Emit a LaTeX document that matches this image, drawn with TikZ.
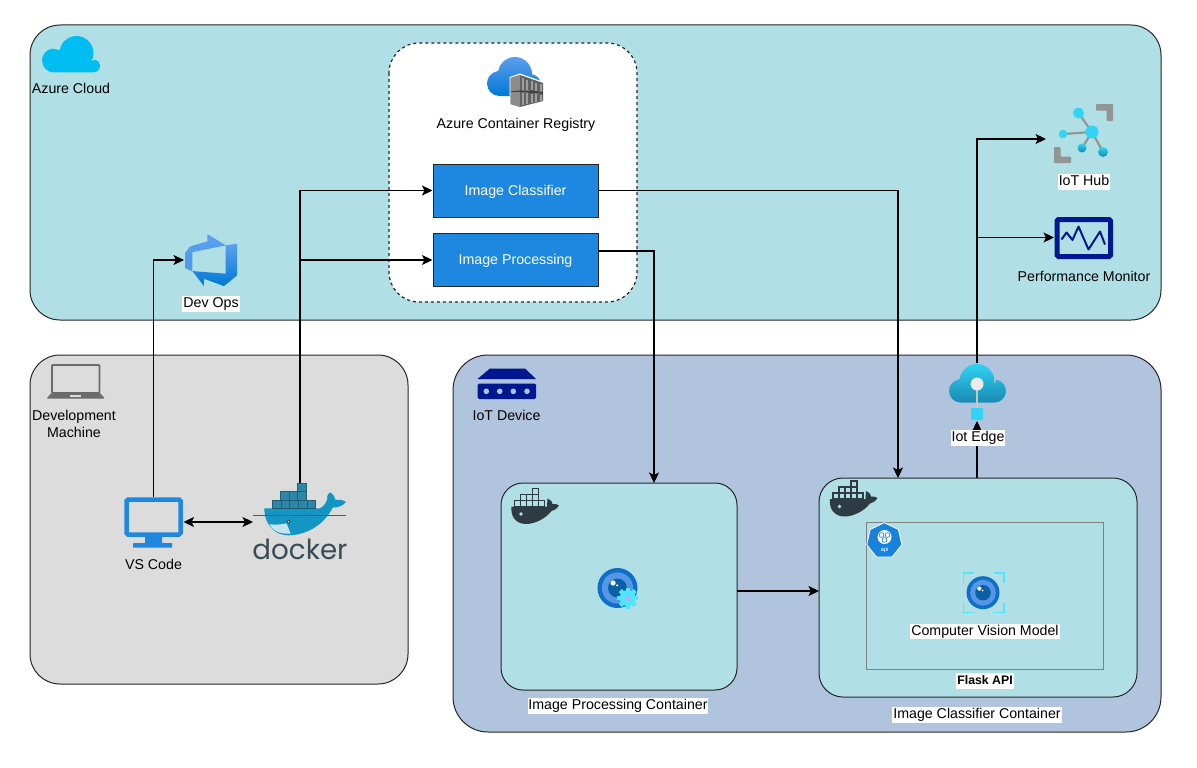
\documentclass[tikz,border=0pt]{standalone}
\usepackage{fontspec}
\setmainfont{Liberation Sans}
\newfontfamily\dockerfont{Poppins}[FontFace={m}{n}{Font=Poppins Medium}]
\usetikzlibrary{arrows.meta,shapes.geometric,calc}
\definecolor{cloudbg}{HTML}{B0E0E6}
\definecolor{devbg}{HTML}{DCDCDC}
\definecolor{iotbg}{HTML}{B0C4DE}
\definecolor{boxblue}{HTML}{1E88E0}
\definecolor{navy}{HTML}{00188F}
\definecolor{azsky}{HTML}{00BEF2}
\definecolor{azhi}{HTML}{5EA0EF}
\definecolor{azlo}{HTML}{0078D4}
\definecolor{cyanlt}{HTML}{32D4F5}
\definecolor{cyandk}{HTML}{198AB3}
\definecolor{gearc}{HTML}{50E6FF}
\definecolor{hubgray}{HTML}{949494}
\definecolor{dkwhale}{HTML}{2F3B42}
\definecolor{dockertxt}{HTML}{394D54}
\definecolor{whale}{HTML}{1396C3}
\definecolor{crate}{HTML}{2D87A8}
\definecolor{lapgray}{HTML}{6B6B6B}
\definecolor{eyeout}{HTML}{0F6FC6}
\definecolor{eyemid}{HTML}{5596E6}
\definecolor{eyein}{HTML}{0B5FA5}
\newcommand{\cloudoutline}[9]{
  ({#1},{#2+#3}) arc[start angle=270,end angle=100,radius=#3pt]
  -- ({#4+#6*cos(170)},{#5-#6*sin(170)}) arc[start angle=170,end angle=-30,radius=#6pt]
  -- ({#7+#9*cos(80)},{#8-#9*sin(80)}) arc[start angle=80,end angle=-90,radius=#9pt] -- cycle}
\newcommand{\smallwhale}[2]{%
  \begin{scope}[shift={(#1,#2)}]
    \fill[dkwhale] (0,18) -- (35.5,18) -- (36,10) .. controls (40,12) and (41,14) .. (41,15.5)
      .. controls (44,15) and (46,16) .. (47.5,17) .. controls (45,21) and (42,22) .. (40,22.5)
      .. controls (34,30) and (24,35.5) .. (14,35.5) .. controls (4,35) and (-1,28) .. (0,18) -- cycle;
    \foreach \a/\b in {3/12,9/12,15/12,21/12,27/12,9/6,15/6,21/6,21/0}
      \draw[dkwhale,line width=1.3pt,fill=cloudbg] (\a,\b) rectangle ++(6,6);
    \fill[cloudbg] (9.5,25.5) circle[radius=1.8pt];
  \end{scope}}
\newcommand{\eyeicon}[3]{%
  \fill[eyeout] (#1,#2) circle[radius=#3*1pt];
  \fill[eyemid] (#1,#2) circle[radius=#3*0.78pt];
  \fill[eyein] (#1,#2) circle[radius=#3*0.47pt];
  \fill[white] ({#1-#3*0.22},{#2-#3*0.25}) circle[radius=#3*0.13pt];
  \fill[white] ({#1-#3*0.02},{#2-#3*0.13}) circle[radius=#3*0.06pt];}
\tikzset{
  panel/.style={draw=black!85,line width=1pt,rounded corners=#1},
  conn/.style={draw=black,line width=1.15pt,-{Stealth[length=10.5pt,width=10pt,inset=2.5pt]}},
  conntwo/.style={draw=black,line width=1.15pt,{Stealth[length=10.5pt,width=10pt,inset=2.5pt]}-{Stealth[length=10.5pt,width=10pt,inset=2.5pt]}},
  imgbox/.style={draw=black!85,line width=1pt,fill=boxblue,text=white,font=\fontsize{14.2}{16}\selectfont,minimum width=165pt,minimum height=53pt,inner sep=0pt,text height=12.5pt,text depth=3pt},
  lab/.style={font=\fontsize{14.2}{17}\selectfont,text=black,inner sep=0.7pt,align=center},
  wlab/.style={lab,fill=white,text height=10.5pt,text depth=3.5pt,inner sep=0.9pt},
  icon/.style 2 args={minimum width=#1,minimum height=#2,inner sep=0pt,outer sep=0pt}
}
\begin{document}
\begin{tikzpicture}[x=1pt,y=-1pt]
\useasboundingbox (0,0) rectangle (1197,768);
\fill[white] (0,0) rectangle (1197,768);
% panels
\draw[panel=30pt,fill=cloudbg] (30,25) rectangle (1161,320);
\draw[panel=30pt,fill=devbg] (30,355) rectangle (408,684);
\draw[panel=35pt,fill=iotbg] (453,355) rectangle (1161,732);
\draw[panel=30pt,fill=white,dashed,dash pattern=on 3pt off 3pt,line width=1.2pt] (389,43) rectangle (637,302);
\node[panel=22pt,fill=cloudbg,icon={236pt}{207pt}] (ipc) at (619,586.5) {};
\node[panel=24pt,fill=cloudbg,icon={318pt}{219pt}] (icc) at (978,587.5) {};
\draw[draw=black!50,line width=1pt] (866,522) rectangle (1103,669);
% blue boxes
\node[imgbox] (ic) at (515.5,190.5) {Image Classifier};
\node[imgbox] (ip) at (515.5,260) {Image Processing};
% anchor nodes
\node[icon={53pt}{52pt}] (devops) at (210.5,260) {};
\node[icon={60pt}{50pt}] (vscode) at (153.5,522) {};
\node[icon={94pt}{76pt}] (docker) at (300,522) {};
\node[icon={68pt}{59pt}] (hub) at (1080,133.5) {};
\node[icon={59pt}{43pt}] (perf) at (1083.5,237.5) {};
\node[icon={57pt}{58pt}] (edge) at (977,392) {};
\coordinate (hubin) at (1046,139);
\coordinate (ipout) at (598,251);
\coordinate (iciin) at (654,483);
\coordinate (cctop) at (898,478);
\coordinate (ccout) at (977,478);
\coordinate (ipcout) at (737,591);
\coordinate (iccin) at (819,591);
% connectors
\draw[conn] (vscode.north) |- (devops.west);
\draw[conn] (docker.north) |- (ic.west);
\draw[conn] (docker.north) |- (ip.west);
\draw[conntwo] (vscode.east) -- (docker.west);
\draw[conn] (ic.east) -| (cctop);
\draw[conn] (ipout) -| (iciin);
\draw[conn] (ipcout) -- (iccin);
\draw[conn] (ccout) -- (edge.south);
\draw[conn] (edge.north) |- (hubin);
\draw[conn] (edge.north) |- (perf.west);
% Azure cloud icon
\fill[azsky] \cloudoutline{54}{60.5}{12}{76.5}{53}{17}{93.5}{66}{6.5};
% DevOps icon
\begin{scope}[shift={(181.75,230.75)},x=3.25pt,y=-3.25pt]
\shade[top color=azhi,bottom color=azlo]
  (17,4) -- (17,13.74) -- (13,17.02) -- (6.8,14.76) -- (6.8,17) -- (3.29,12.41) -- (13.52,13.21) -- (13.52,4.44) -- cycle;
\shade[top color=azhi,bottom color=azhi!80!azlo]
  (13.59,4.49) -- (7.85,1) -- (7.85,3.29) -- (2.58,4.84) -- (1,6.87) -- (1,11.48) -- (3.26,12.48) -- (3.26,6.57) -- cycle;
\end{scope}
% ACR icon
\shade[top color=azhi,bottom color=azlo] \cloudoutline{499.5}{83.5}{12.5}{515}{74}{17}{530}{85}{11};
\fill[white] (509.5,77) -- (520,73.5) -- (544,82) -- (544,102) -- (520,108) -- (509.5,105) -- cycle;
\fill[black!62] (510.5,78) -- (520,75) -- (543,83) -- (543,91.5) -- (520,90.2) -- (510.5,91) -- cycle;
\fill[black!62] (510.5,92.5) -- (520,92) -- (543,94) -- (543,101) -- (520,107) -- (510.5,104) -- cycle;
\fill[black!75] (510.5,91) -- (520,90.2) -- (543,91.5) -- (543,94) -- (520,92) -- (510.5,92.5) -- cycle;
\fill[black!45] (510.5,78) -- (520,75) -- (520,90.2) -- (510.5,91) -- cycle;
\fill[black!45] (510.5,92.5) -- (520,92) -- (520,107) -- (510.5,104) -- cycle;
\foreach \q in {522.5,527,531.5,536,540.5}{
  \draw[black!38,line width=2pt] (\q,{77.5+(\q-521)*0.34}) -- (\q,{89.8+(\q-521)*0.05});
  \draw[black!38,line width=2pt] (\q,{93+(\q-521)*0.08}) -- (\q,{105.5-(\q-521)*0.24});}
% IoT hub
\begin{scope}
\fill[hubgray,rounded corners=0.8pt] (1096,104) -- (1113,104) -- (1113,121) -- (1106.5,121) -- (1106.5,110.5) -- (1096,110.5) -- cycle;
\fill[hubgray,rounded corners=0.8pt] (1054,147) -- (1060.5,147) -- (1060.5,156.5) -- (1071,156.5) -- (1071,163) -- (1054,163) -- cycle;
\draw[hubgray,line width=2.2pt] (1092,132) -- (1078.5,113) (1092,132) -- (1063,134) (1092,132) -- (1082,148) (1092,132) -- (1103,152);
\fill[cyanlt] (1092,132) circle[radius=6.5pt];
\fill[cyanlt] (1078.5,113) circle[radius=5.5pt];
\fill[cyanlt] (1063,134) circle[radius=4.3pt];
\shade[top color=cyanlt,bottom color=cyandk] (1082,148) circle[radius=4.5pt];
\shade[top color=cyanlt,bottom color=cyandk] (1103,152) circle[radius=5pt];
\end{scope}
% performance monitor
\draw[navy,line width=5pt,rounded corners=1.5pt] (1057,219.5) rectangle (1110.5,256.5);
\draw[navy,line width=2pt,line join=round] (1061.5,239.5) -- (1066.5,232.5) -- (1072.5,240) -- (1078.5,226.5) -- (1088.5,249.5) -- (1100,231.5) -- (1105,244.5);
% laptop
\draw[lapgray,line width=1.8pt,rounded corners=1pt] (52,365) rectangle (99.5,393);
\fill[lapgray,rounded corners=1pt] (46.5,398.5) -- (51.5,393) -- (100,393) -- (105,398.5) -- cycle;
\fill[devbg] (70,394.5) rectangle (81,396.5);
% VS code monitor
\draw[boxblue,line width=4.5pt,rounded corners=1.5pt] (126.5,499.5) rectangle (180.5,534.5);
\fill[boxblue] (145,537) -- (162,537) -- (162,543) -- (172,543) -- (172,547.5) -- (133,547.5) -- (133,543) -- (145,543) -- cycle;
% docker big logo
\begin{scope}[shift={(30,355)},x=0.3333pt,y=-0.3333pt]
\fill[whale] (703,460) -- (870,460) .. controls (880,455) and (888,445) .. (892,432) .. controls (890,422) and (895,415) .. (900,412)
  .. controls (910,418) and (915,425) .. (917,435) .. controls (930,433) and (942,436) .. (948,441) .. controls (940,452) and (925,458) .. (908,458)
  .. controls (890,495) and (845,540) .. (775,541) .. controls (735,541) and (703,510) .. (703,460) -- cycle;
\fill[white!75!whale] (718,508) .. controls (740,510) and (760,508) .. (770,505) .. controls (775,520) and (780,530) .. (782,536) .. controls (755,538) and (730,530) .. (718,508) -- cycle;
\foreach \a/\b in {727/435,753/435,779/435,805/435,831/435,751/410,777/410,803/410,803/385}
  \draw[crate!70!black,line width=0.7pt,fill=crate] (\a,\b) rectangle ++(26,25);
\draw[dockertxt!70!whale,line width=0.5pt] (670,481) -- (948,481);
\fill[dockertxt] (775,500) circle[radius=2pt];
\fill[white] (775,500) circle[radius=0.8pt];
\end{scope}
\node[font=\dockerfont\fontsize{27.7}{28}\selectfont,text=dockertxt,inner sep=0pt] (dockerword) at (300,549) {docker};
% small whales
\smallwhale{511.5}{488.5}
\smallwhale{830}{481}
% IoT device icon
\fill[navy] (477.5,379) -- (490,368.5) -- (525,368.5) -- (536,379) -- cycle;
\fill[navy,rounded corners=1.5pt] (477.5,383.5) rectangle (536,399);
\foreach \q in {486.3,499.7,513.3,527}
  \fill[iotbg] (\q,391.3) circle[radius=2.8pt];
% IoT Edge cloud
\shade[top color=cyanlt,bottom color=cyandk] \cloudoutline{960.5}{391}{11.5}{977}{381.5}{17.5}{994.5}{391}{11.5};
\draw[gray!45,line width=2.2pt] (977,384) -- (977,410);
\fill[white!92!black] (977,384) circle[radius=6.5pt];
\fill[cyanlt,rounded corners=1pt] (971,408) rectangle (983,420);
% image processing icon
\eyeicon{617.5}{588}{20}
\begin{scope}[shift={(627.7,598)}]
\foreach \r in {0,45,...,315}
  \fill[gearc,rotate=\r] (-2.2,-10.5) rectangle (2.2,0);
\fill[gearc] (0,0) circle[radius=8pt];
\fill[eyemid!60!white] (0,0) circle[radius=3.4pt];
\end{scope}
% computer vision icon
\eyeicon{983}{592.7}{16.5}
\draw[gearc,line width=1.6pt] (963.6,583) -- (963.6,573) -- (974,573) (994,573) -- (1003.7,573) -- (1003.7,583) (1003.7,602.5) -- (1003.7,612.5) -- (994,612.5) (974,612.5) -- (963.6,612.5) -- (963.6,602.5);
% API icon
\node[regular polygon,regular polygon sides=7,draw=white,line width=0.8pt,fill=azlo!75!azhi,minimum size=36pt,inner sep=0pt] (apiicon) at (884.3,540.7) {};
\fill[white] (884.5,537) circle[radius=7pt];
\foreach \a/\b in {-3/-2,3/-2,0/3}
  \draw[azlo,line width=0.6pt] (884.5+\a,537+\b) circle[radius=2.4pt];
\node[font=\fontsize{6}{6}\selectfont,text=white,inner sep=0pt] (apitext) at (884.5,549.5) {api};
% labels
\node[lab] (lcloud) at (71,88.5) {Azure Cloud};
\node[wlab] (ldev) at (211,304) {Dev Ops};
\node[lab] (lacr) at (516,125) {Azure Container Registry};
\node[wlab] (lhub) at (1084,182) {IoT Hub};
\node[lab] (lperf) at (1084,276.5) {Performance Monitor};
\node[lab] (lmach) at (74,424) {Development\\Machine};
\node[lab] (lvs) at (153.5,564.5) {VS Code};
\node[lab] (ldevice) at (506.5,415.5) {IoT Device};
\node[wlab] (ledge) at (978,438) {Iot Edge};
\node[wlab] (lcv) at (985,631.5) {Computer Vision Model};
\node[wlab,font=\fontsize{12.3}{14}\selectfont\bfseries] (lflask) at (985,681) {Flask API};
\node[wlab] (lipc) at (618,706) {Image Processing Container};
\node[wlab] (licc) at (977,715) {Image Classifier Container};
\end{tikzpicture}
\end{document}
